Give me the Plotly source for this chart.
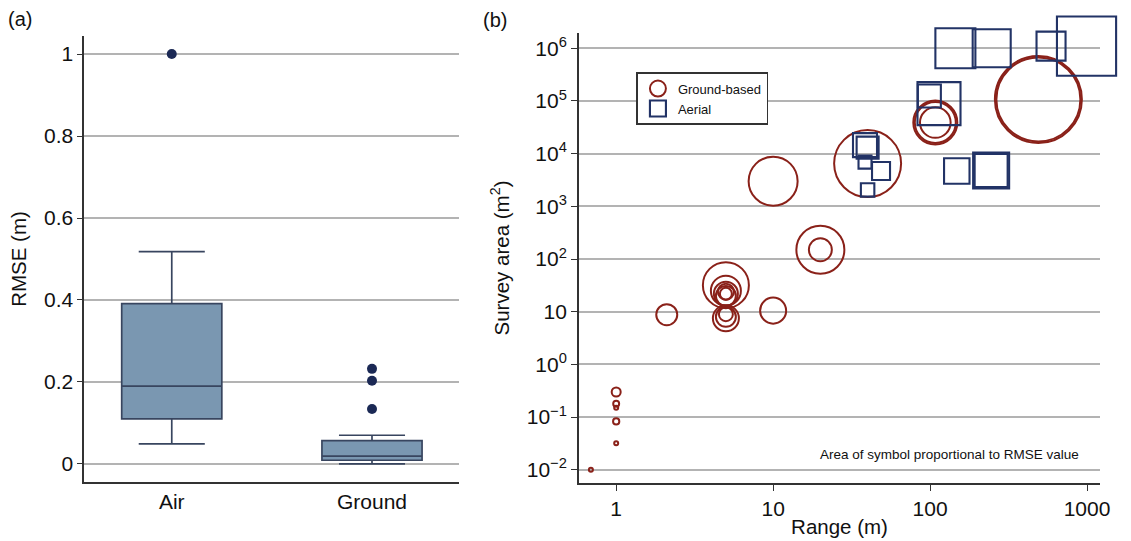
import numpy as np
import plotly.graph_objects as go

# ---------------- data: panel (a) ----------------
box_groups = ["Air", "Ground"]
box_q1 = [0.11, 0.009]
box_median = [0.19, 0.019]
box_q3 = [0.391, 0.057]
box_lower = [0.049, 0.0]
box_upper = [0.518, 0.070]
outlier_group = ["Air", "Ground", "Ground", "Ground"]
outlier_rmse = [1.0, 0.232, 0.203, 0.134]

# ---------------- data: panel (b) ----------------
ground_range = [0.69, 1, 1, 1, 1, 1, 2.1, 5, 5, 5, 5, 5, 5, 5, 5, 5,
                10, 10, 20, 20, 40, 108, 108, 108, 490, 490]
ground_area = [0.01, 0.032, 0.083, 0.15, 0.18, 0.30, 8.8, 7.5, 8, 9, 32, 25, 22, 20, 24, 22,
               10.5, 3000, 150, 150, 6500, 39000, 39000, 39000, 1.07e5, 1.07e5]
ground_rmse = [0.0005, 0.0005, 0.0012, 0.0005, 0.0011, 0.0025, 0.0136, 0.0209, 0.0123, 0.0060,
               0.0653, 0.0278, 0.0178, 0.0123, 0.0079, 0.0044,
               0.0209, 0.0741, 0.0711, 0.0163, 0.1385, 0.0598, 0.0519, 0.0290, 0.2336, 0.2178]

aerial_range = [145, 247, 590, 993, 114, 99, 38.5, 40, 38.5, 48.7, 40, 148, 245, 245]
aerial_area = [1.0e6, 1.0e6, 1.1e6, 1.1e6, 8.9e4, 1.24e5, 1.45e4, 1.3e4, 6900, 4700, 2050,
               4700, 4800, 4800]
aerial_rmse = [0.0494, 0.0446, 0.026, 0.108, 0.0571, 0.0163, 0.0178, 0.0149, 0.0052, 0.010,
               0.0056, 0.0200, 0.0400, 0.0336]

x_ticks = [1, 10, 100, 1000]
x_ticktext = ["1", "10", "100", "1000"]
y_ticks = [1e-2, 1e-1, 1e0, 1e1, 1e2, 1e3, 1e4, 1e5, 1e6]
y_ticktext = ["10<sup>−2</sup>", "10<sup>−1</sup>", "10<sup>0</sup>", "10",
              "10<sup>2</sup>", "10<sup>3</sup>", "10<sup>4</sup>", "10<sup>5</sup>", "10<sup>6</sup>"]

# symbol area proportional to RMSE
def sym_size(rmse):
    return 180 * np.sqrt(np.asarray(rmse))

W, H = 1131, 541
FONT = "Liberation Sans, Arial, Helvetica, sans-serif"
GROUND_C = "#8a2119"
AERIAL_C = "#223366"
GRID_C = "#b3b3b3"
AXIS_C = "#333333"

fig = go.Figure()

fig.add_trace(go.Box(
    x=box_groups, q1=box_q1, median=box_median, q3=box_q3,
    lowerfence=box_lower, upperfence=box_upper,
    orientation="v", boxpoints=False, width=0.5, whiskerwidth=0.66,
    fillcolor="#7a97b1", line=dict(color="#38455f", width=1.7),
    showlegend=False, xaxis="x", yaxis="y", hoverinfo="skip"))

fig.add_trace(go.Scatter(
    x=outlier_group, y=outlier_rmse, mode="markers",
    marker=dict(color="#1b2955", size=10),
    showlegend=False, xaxis="x", yaxis="y", cliponaxis=False))

fig.add_trace(go.Scatter(
    x=ground_range, y=ground_area, mode="markers", name="Ground-based",
    marker=dict(symbol="circle-open", size=sym_size(ground_rmse), color=GROUND_C,
                opacity=1, line=dict(width=2.0, color=GROUND_C)),
    xaxis="x2", yaxis="y2", cliponaxis=False))

fig.add_trace(go.Scatter(
    x=aerial_range, y=aerial_area, mode="markers", name="Aerial",
    marker=dict(symbol="square-open", size=sym_size(aerial_rmse), color=AERIAL_C,
                opacity=1, line=dict(width=2.1, color=AERIAL_C)),
    xaxis="x2", yaxis="y2", cliponaxis=False))

def px_x(p):
    return p / W

def px_y(p):
    return 1 - p / H

tick_font = dict(family=FONT, size=21, color="#111")
title_font = dict(family=FONT, size=20.5, color="#111")

fig.update_layout(
    width=W, height=H, margin=dict(l=0, r=0, t=0, b=0),
    paper_bgcolor="white", plot_bgcolor="white",
    font=dict(family=FONT, color="#111"),
    xaxis=dict(domain=[px_x(85), px_x(463)], type="category",
               range=[-0.437, 1.434], showline=True, linecolor=AXIS_C, linewidth=1.6,
               showgrid=False, ticks="", tickfont=tick_font, anchor="y", zeroline=False),
    yaxis=dict(domain=[px_y(482), px_y(36)], range=[-0.044, 1.044],
               tickvals=[0, 0.2, 0.4, 0.6, 0.8, 1.0],
               ticktext=["0", "0.2", "0.4", "0.6", "0.8", "1"],
               showline=True, linecolor=AXIS_C, linewidth=1.6,
               ticks="outside", ticklen=5, tickcolor=AXIS_C, tickwidth=1.2,
               showgrid=True, gridcolor=GRID_C, gridwidth=1.6, zeroline=False,
               tickfont=tick_font, anchor="x",
               title=dict(text="RMSE (m)", font=title_font, standoff=12)),
    xaxis2=dict(domain=[px_x(584), px_x(1110)], type="log", range=[-0.238, 3.084],
                tickvals=x_ticks, ticktext=x_ticktext,
                showline=True, linecolor=AXIS_C, linewidth=1.6,
                ticks="outside", ticklen=6, tickcolor=AXIS_C, tickwidth=1.2,
                showgrid=False, zeroline=False, tickfont=tick_font, anchor="y2",
                title=dict(text="Range (m)", font=title_font, standoff=1)),
    yaxis2=dict(domain=[px_y(483), px_y(33)], type="log", range=[-2.25, 6.29],
                tickvals=y_ticks, ticktext=y_ticktext,
                showline=True, linecolor=AXIS_C, linewidth=1.6,
                ticks="outside", ticklen=6, tickcolor=AXIS_C, tickwidth=1.2,
                showgrid=True, gridcolor=GRID_C, gridwidth=2, zeroline=False,
                tickfont=tick_font, anchor="x2",
                title=dict(text="Survey area (m<sup>2</sup>)", font=title_font, standoff=12)),
    legend=dict(x=px_x(642), y=px_y(72), xanchor="left", yanchor="top",
                bordercolor="#333", borderwidth=1.6, bgcolor="white",
                font=dict(family="Liberation Sans Narrow, Arial Narrow, " + FONT, size=13,
                          color="#111"),
                tracegroupgap=0),
    showlegend=True,
    annotations=[
        dict(text="(a)", x=px_x(6), y=px_y(19), xref="paper", yref="paper",
             xanchor="left", yanchor="middle", showarrow=False,
             font=dict(family=FONT, size=20, color="#111")),
        dict(text="(b)", x=px_x(485), y=px_y(20), xref="paper", yref="paper",
             xanchor="left", yanchor="middle", showarrow=False,
             font=dict(family=FONT, size=20, color="#111")),
        dict(text="Area of symbol proportional to RMSE value", x=px_x(958), y=px_y(454),
             xref="paper", yref="paper", xanchor="center", yanchor="middle",
             showarrow=False, font=dict(family="Liberation Sans Narrow, Arial Narrow, " + FONT,
                                        size=13.5, color="#111")),
    ],
)

fig.write_html("out.html")
